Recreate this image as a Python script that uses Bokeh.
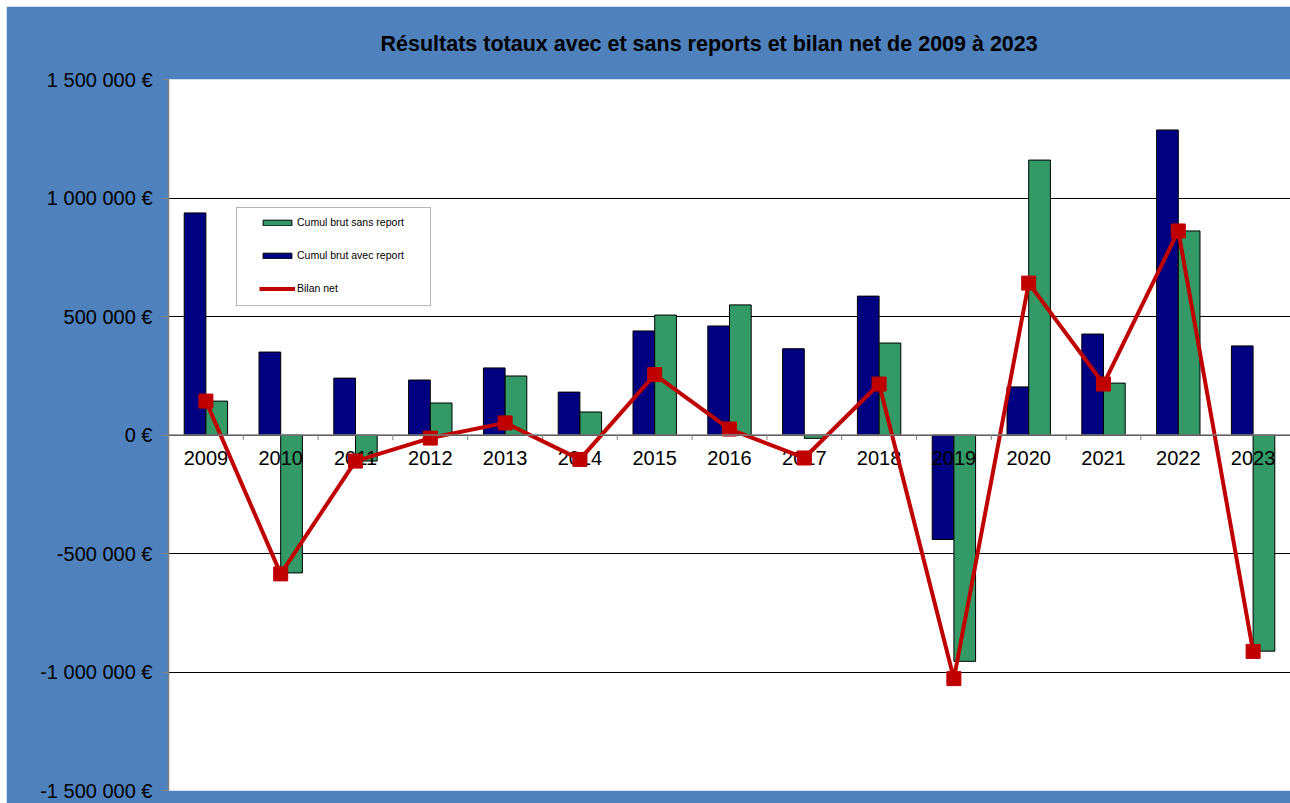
from bokeh.plotting import figure
from bokeh.models import (ColumnDataSource, FactorRange, Range1d, FixedTicker, CustomJSTickFormatter,
                          Span, Legend, LegendItem, BoxAnnotation, Spacer)
from bokeh.layouts import column, row
from bokeh.transform import dodge
from bokeh.core.properties import value
from bokeh.embed import file_html
from bokeh.resources import INLINE

years = ["2009", "2010", "2011", "2012", "2013", "2014", "2015", "2016",
         "2017", "2018", "2019", "2020", "2021", "2022", "2023"]
avec_report = [937000, 350000, 240000, 232000, 283000, 181000, 439000, 460000,
               364000, 586000, -441000, 203000, 426000, 1287000, 376000]
sans_report = [143000, -582000, -110000, 135000, 249000, 97000, 506000, 549000,
               -14000, 388000, -955000, 1160000, 219000, 861000, -912000]
bilan_net = [143000, -586000, -110000, -13000, 51000, -103000, 255000, 25000,
             -97000, 215000, -1028000, 641000, 215000, 861000, -913000]
y_ticks = [-1500000, -1000000, -500000, 0, 500000, 1000000, 1500000]
title_text = "Résultats totaux avec et sans reports et bilan net de 2009 à 2023"
labels = ["Cumul brut sans report", "Cumul brut avec report", "Bilan net"]

FONT = "Liberation Sans"
BLUE_BG = "#4F81BD"
NAVY = "#000080"
GREEN = "#339966"
RED = "#C00000"

src = ColumnDataSource(dict(years=years, avec=avec_report, sans=sans_report, bilan=bilan_net))
bound_src = ColumnDataSource(dict(years=years[:-1], y0=[0] * (len(years) - 1),
                                  y1=[-21000] * (len(years) - 1)))

p = figure(width=1284, height=797, output_backend="svg", toolbar_location=None,
           x_range=FactorRange(factors=years, range_padding=0),
           y_range=Range1d(-1500000, 1500000),
           min_border_left=162, min_border_right=0, min_border_top=73, min_border_bottom=13)

p.border_fill_color = BLUE_BG
p.background_fill_color = "white"
p.outline_line_color = None

p.title.text = title_text
p.title.text_font = FONT
p.title.text_font_size = "21.5px"
p.title.text_font_style = "bold"
p.title.text_color = "black"
p.title.align = "left"
p.title.offset = 212
p.title.standoff = 47

p.xaxis.visible = False
p.xgrid.visible = False

yax = p.yaxis[0]
yax.ticker = FixedTicker(ticks=y_ticks)
yax.formatter = CustomJSTickFormatter(code="""
const s = Math.abs(tick).toFixed(0).replace(/\\B(?=(\\d{3})+(?!\\d))/g, " ");
return (tick < 0 ? "-" : "") + s + " €";
""")
yax.major_label_text_font = FONT
yax.major_label_text_font_size = "20px"
yax.major_label_text_color = "black"
yax.major_label_standoff = 10
yax.axis_line_color = "#808080"
yax.axis_line_width = 1.5
yax.major_tick_line_color = "#808080"
yax.major_tick_out = 6
yax.major_tick_in = 0
yax.minor_tick_line_color = None

p.ygrid.ticker = FixedTicker(ticks=y_ticks)
p.ygrid.grid_line_color = "black"
p.ygrid.grid_line_width = 1
p.ygrid.grid_line_alpha = 1

r_avec = p.vbar(x=dodge("years", -0.145, range=p.x_range), top="avec", bottom=0, width=0.29,
                source=src, fill_color=NAVY, line_color="black", line_width=1)
r_sans = p.vbar(x=dodge("years", 0.145, range=p.x_range), top="sans", bottom=0, width=0.29,
                source=src, fill_color=GREEN, line_color="black", line_width=1)

p.add_layout(Span(location=0, dimension="width", line_color="#808080", line_width=1.5))
p.segment(x0=dodge("years", 0.5, range=p.x_range), x1=dodge("years", 0.5, range=p.x_range),
          y0="y0", y1="y1", source=bound_src, line_color="#808080", line_width=1)

p.text(x="years", y=0, text="years", source=src, text_font=value(FONT),
       text_font_size="20px", text_color="black", text_align="center",
       text_baseline="top", y_offset=16)

r_line = p.line(x="years", y="bilan", source=src, line_color=RED, line_width=4)
r_pts = p.scatter(x="years", y="bilan", source=src, marker="square", size=14,
                  fill_color=RED, line_color=RED)

box = BoxAnnotation(left=0.909, right=3.503, bottom=546000, top=960000,
                    fill_color="white", fill_alpha=1, line_color="black", line_width=1)
p.add_layout(box)

legend = Legend(items=[LegendItem(label=labels[0], renderers=[r_sans]),
                       LegendItem(label=labels[1], renderers=[r_avec]),
                       LegendItem(label=labels[2], renderers=[r_line, r_pts])],
                location=(91, 492), padding=0, margin=0, spacing=13,
                glyph_width=36, glyph_height=7, label_height=20, label_standoff=2,
                label_text_font=FONT, label_text_font_size="10.5px", label_text_color="black",
                background_fill_alpha=0, border_line_color=None)
p.add_layout(legend, "center")

page = column(Spacer(height=6), row(Spacer(width=6), p), spacing=0)

open("out.html", "w").write(file_html(page, INLINE))
